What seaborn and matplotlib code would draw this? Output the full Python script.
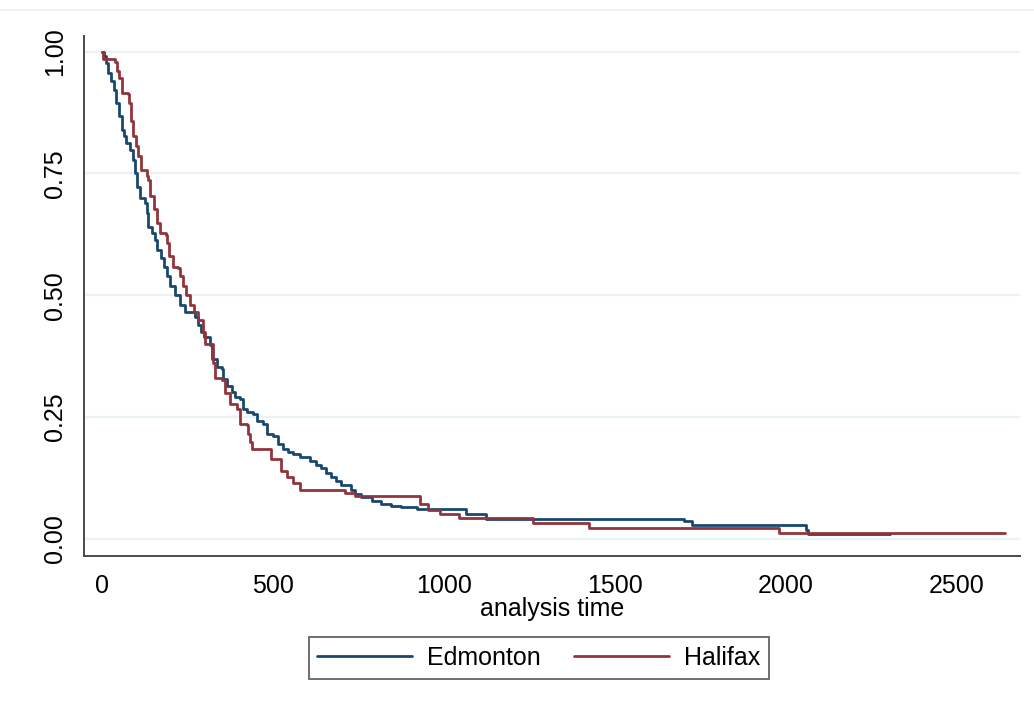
import matplotlib
matplotlib.use("Agg")
import matplotlib.pyplot as plt
from matplotlib.lines import Line2D
import seaborn as sns
import pandas as pd

# ---- data ----
groups = ["Edmonton", "Halifax"]

t_edm = [0, 5, 12, 18, 28, 35, 41, 51, 58, 65, 70, 82, 90, 97, 103, 111, 126, 131, 136,
         146, 155, 162, 172, 182, 192, 199, 214, 229, 243, 272, 281, 290, 299, 317, 323,
         337, 352, 355, 367, 381, 390, 405, 413, 425, 443, 455, 472, 484, 501, 516, 531,
         545, 560, 580, 610, 625, 640, 655, 670, 685, 700, 727, 740, 757, 790, 815, 845,
         874, 920, 1064, 1122, 1702, 1726, 2058, 2065, 2305]
s_edm = [1.0, 0.99, 0.977, 0.956, 0.939, 0.922, 0.895, 0.867, 0.84, 0.826, 0.813, 0.799,
         0.778, 0.751, 0.723, 0.70, 0.689, 0.669, 0.641, 0.628, 0.614, 0.593, 0.576, 0.559,
         0.539, 0.518, 0.50, 0.48, 0.465, 0.455, 0.44, 0.425, 0.415, 0.397, 0.37, 0.353,
         0.349, 0.328, 0.314, 0.302, 0.291, 0.287, 0.267, 0.26, 0.256, 0.242, 0.236, 0.215,
         0.211, 0.194, 0.184, 0.178, 0.174, 0.168, 0.16, 0.152, 0.145, 0.135, 0.127, 0.118,
         0.11, 0.10, 0.093, 0.086, 0.078, 0.072, 0.068, 0.065, 0.061, 0.051, 0.041, 0.036,
         0.029, 0.018, 0.010, 0.010]

t_hal = [0, 4, 38, 43, 51, 58, 60, 77, 80, 84, 90, 100, 106, 116, 131, 136, 141, 152, 160,
         170, 188, 192, 197, 207, 224, 229, 238, 246, 258, 270, 282, 295, 302, 326, 331,
         352, 361, 375, 396, 405, 425, 428, 434, 440, 495, 525, 540, 560, 580, 712, 740,
         930, 955, 990, 1043, 1259, 1423, 1980, 2640]
s_hal = [1.0, 0.985, 0.978, 0.96, 0.946, 0.939, 0.915, 0.912, 0.895, 0.857, 0.826, 0.806,
         0.785, 0.758, 0.744, 0.737, 0.703, 0.676, 0.648, 0.628, 0.624, 0.607, 0.58, 0.559,
         0.556, 0.539, 0.518, 0.50, 0.48, 0.465, 0.45, 0.425, 0.40, 0.36, 0.33, 0.326, 0.30,
         0.277, 0.267, 0.236, 0.233, 0.215, 0.198, 0.184, 0.165, 0.14, 0.128, 0.115, 0.10,
         0.095, 0.088, 0.072, 0.06, 0.052, 0.043, 0.033, 0.022, 0.012, 0.012]

x_ticks = [0, 500, 1000, 1500, 2000, 2500]
y_ticks = [0.0, 0.25, 0.50, 0.75, 1.00]
y_tick_labels = ["0.00", "0.25", "0.50", "0.75", "1.00"]
x_label = "analysis time"

df = pd.concat([
    pd.DataFrame({"time": t_edm, "surv": s_edm, "group": groups[0]}),
    pd.DataFrame({"time": t_hal, "surv": s_hal, "group": groups[1]}),
], ignore_index=True)

# ---- style ----
sns.set_style("white")
plt.rcParams["font.family"] = ["Liberation Sans", "DejaVu Sans"]
plt.rcParams["text.color"] = "black"
plt.rcParams["axes.labelcolor"] = "black"
FS = 18
axis_col = "#4a4a4a"

fig = plt.figure(figsize=(10.34, 7.06), dpi=100)
W, H = 1034, 706
ax = fig.add_axes([84 / W, 1 - 556 / H, (1020 - 84) / W, (556 - 36) / H])

palette = {"Edmonton": "#1a476f", "Halifax": "#90353b"}
sns.lineplot(data=df, x="time", y="surv", hue="group", palette=palette,
             estimator=None, sort=True, drawstyle="steps-post", linewidth=2.0,
             ax=ax)

ax.set_xlim(-52, 2684)
ax.set_ylim(-0.035, 1.032)
ax.set_xticks(x_ticks)
ax.set_xticklabels([str(v) for v in x_ticks], fontsize=FS)
ax.set_yticks(y_ticks)
ax.set_yticklabels(y_tick_labels, fontsize=FS, rotation=90, va="center")
ax.set_xlabel(x_label, fontsize=FS, labelpad=-1)
ax.set_ylabel("")

ax.yaxis.grid(True, color="#EAF2F3", linewidth=1.6)
ax.xaxis.grid(False)
ax.set_axisbelow(True)

for side in ["top", "right"]:
    ax.spines[side].set_visible(False)
for side in ["left", "bottom"]:
    ax.spines[side].set_color(axis_col)
    ax.spines[side].set_linewidth(1.4)
ax.tick_params(axis="both", direction="out", length=7, width=1.0, color=axis_col,
               labelcolor="black")
ax.tick_params(axis="y", pad=5)
ax.tick_params(axis="x", pad=6)

sns.move_legend(ax, loc="center", bbox_to_anchor=(538.5 / W, 1 - 658 / H),
                bbox_transform=fig.transFigure, ncol=2, title=None, frameon=True,
                fancybox=False, fontsize=FS, handlelength=3.8, handletextpad=0.6,
                columnspacing=1.3, borderpad=0.35)
leg = ax.get_legend()
leg.get_frame().set_edgecolor(axis_col)
leg.get_frame().set_linewidth(1.4)
for line in leg.get_lines():
    line.set_linewidth(2.0)
for txt in leg.get_texts():
    txt.set_color("black")

fig.add_artist(Line2D([0, 1], [1 - 10 / H] * 2, transform=fig.transFigure,
                      color="#EEF3F6", linewidth=1.5))

fig.savefig("out.png", dpi=100, facecolor="white")
